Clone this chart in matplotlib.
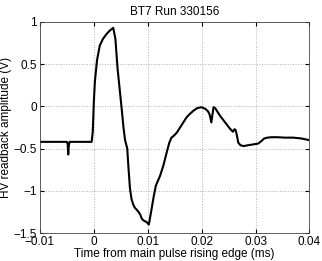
import matplotlib
matplotlib.use("Agg")
import matplotlib.pyplot as plt

plt.rcParams["font.family"] = ["Liberation Sans", "DejaVu Sans"]

# HV readback trace (time in ms, amplitude in V)
t_ms = [-0.0100, -0.0070, -0.0050, -0.00485, -0.00475, -0.00465, -0.0045, -0.0030,
        -0.0008, -0.0004, -0.0002, 0.0000, 0.0002, 0.0006, 0.0011, 0.0017,
        0.0024, 0.0030, 0.0036, 0.0040, 0.0044, 0.0048, 0.0052, 0.0055,
        0.0058, 0.0060, 0.0062, 0.0064, 0.0067, 0.0070, 0.0073, 0.0076,
        0.0079, 0.0083, 0.0086, 0.0089, 0.0092, 0.0098, 0.0102, 0.0104,
        0.0107, 0.0111, 0.0115, 0.0123, 0.0129, 0.0135, 0.0140, 0.0144,
        0.0148, 0.0154, 0.0160, 0.0166, 0.0172, 0.0178, 0.0185, 0.0192,
        0.0200, 0.0207, 0.0212, 0.0215, 0.0218, 0.0220, 0.0222, 0.0225,
        0.0230, 0.0234, 0.0240, 0.0246, 0.0252, 0.0258, 0.0261, 0.0263,
        0.0265, 0.0268, 0.0272, 0.0278, 0.0286, 0.0296, 0.0305, 0.0311,
        0.0316, 0.0322, 0.0330, 0.0340, 0.0355, 0.0370, 0.0385, 0.0400]
v_hv = [-0.42, -0.42, -0.42, -0.45, -0.57, -0.47, -0.42, -0.42,
        -0.42, -0.42, -0.30, 0.05, 0.30, 0.55, 0.72, 0.80,
        0.86, 0.90, 0.93, 0.80, 0.45, 0.20, -0.05, -0.25,
        -0.40, -0.45, -0.50, -0.70, -0.97, -1.10, -1.16, -1.20,
        -1.22, -1.25, -1.28, -1.33, -1.35, -1.37, -1.40, -1.33,
        -1.22, -1.07, -0.94, -0.82, -0.70, -0.55, -0.43, -0.37,
        -0.35, -0.31, -0.25, -0.19, -0.13, -0.09, -0.05, -0.02,
        -0.01, -0.03, -0.06, -0.10, -0.19, -0.10, -0.01, -0.02,
        -0.07, -0.11, -0.16, -0.21, -0.26, -0.30, -0.27, -0.28,
        -0.33, -0.43, -0.46, -0.47, -0.46, -0.45, -0.44, -0.41,
        -0.38, -0.37, -0.365, -0.365, -0.37, -0.37, -0.38, -0.40]

x_ticks = [-0.01, 0, 0.01, 0.02, 0.03, 0.04]
x_labels = ["\u22120.01", "0", "0.01", "0.02", "0.03", "0.04"]
y_ticks = [-1.5, -1, -0.5, 0, 0.5, 1]
y_labels = ["\u22121.5", "\u22121", "\u22120.5", "0", "0.5", "1"]

fig = plt.figure(figsize=(3.22, 2.61), dpi=100)
ax = fig.add_axes([0.124, 0.107, 0.837, 0.809])

ax.plot(t_ms, v_hv, color="black", linewidth=1.5)

ax.set_xlim(-0.01, 0.04)
ax.set_ylim(-1.5, 1)
ax.set_xticks(x_ticks)
ax.set_xticklabels(x_labels)
ax.set_yticks(y_ticks)
ax.set_yticklabels(y_labels)

ax.grid(True, linestyle=":", color="#b0b0b0", linewidth=0.7)
ax.tick_params(direction="in", length=3, labelsize=8.5, top=True, right=True, pad=2)
for s in ax.spines.values():
    s.set_linewidth(0.6)
    s.set_color("#444444")

ax.set_title("BT7 Run 330156", fontsize=8.5, pad=5)
ax.set_xlabel("Time from main pulse rising edge (ms)", fontsize=8.5, labelpad=0)
ax.set_ylabel("HV readback amplitude (V)", fontsize=8.5, labelpad=1)

fig.savefig("out.png", dpi=100)
